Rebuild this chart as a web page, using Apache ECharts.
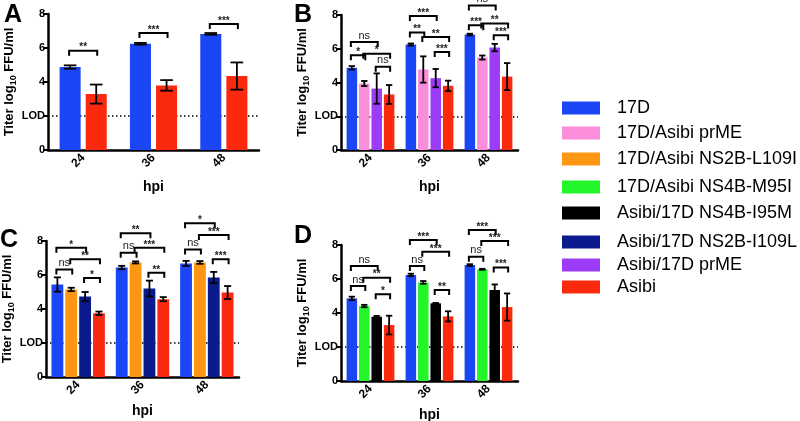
<!DOCTYPE html>
<html><head><meta charset="utf-8">
<script src="https://cdn.jsdelivr.net/npm/echarts@6/dist/echarts.min.js"></script>
<style>html,body{margin:0;padding:0;background:#fff}#c{width:800px;height:421px}</style>
</head><body><div id="c"></div>
<script>
// ---------- data ----------
const hpi = ['24', '36', '48'];
const yTickLabels = ['0', 'LOD', '4', '6', '8'];   // values 0,2,4,6,8
const names = ['17D', '17D/Asibi prME', '17D/Asibi NS2B-L109I', '17D/Asibi NS4B-M95I',
  'Asibi/17D NS4B-I95M', 'Asibi/17D NS2B-I109L', 'Asibi/17D prME', 'Asibi'];
const colors = ['#1b46f6', '#fb8edb', '#fd9612', '#22f52a', '#000000', '#0b1a8c', '#9c3cf6', '#fb2a0e'];

// Panel A
const a17D = [4.88, 6.25, 6.83], a17DErr = [0.10, 0.05, 0.05];
const aAsibi = [3.29, 3.80, 4.35], aAsibiErr = [0.56, 0.31, 0.80];
// Panel B
const b17D = [4.87, 6.25, 6.84], b17DErr = [0.10, 0.06, 0.05];
const bPrME = [3.94, 4.77, 5.48], bPrMEErr = [0.15, 0.78, 0.12];
const bAsibiPrME = [3.64, 4.26, 6.07], bAsibiPrMEErr = [0.90, 0.54, 0.22];
const bAsibi = [3.29, 3.80, 4.35], bAsibiErr = [0.56, 0.31, 0.80];
// Panel C
const c17D = [5.44, 6.44, 6.68], c17DErr = [0.42, 0.10, 0.15];
const cNS2BL = [5.15, 6.74, 6.74], cNS2BLErr = [0.10, 0.06, 0.08];
const cNS2BI = [4.73, 5.20, 5.85], cNS2BIErr = [0.27, 0.47, 0.33];
const cAsibi = [3.75, 4.58, 4.97], cAsibiErr = [0.10, 0.12, 0.38];
// Panel D
const d17D = [4.86, 6.24, 6.82], d17DErr = [0.10, 0.07, 0.05];
const dNS4BM = [4.41, 5.80, 6.57], dNS4BMErr = [0.07, 0.08, 0.03];
const dNS4BI = [3.78, 4.57, 5.35], dNS4BIErr = [0.05, 0.02, 0.33];
const dAsibi = [3.29, 3.80, 4.35], dAsibiErr = [0.55, 0.30, 0.80];

// significance brackets: [category, fromBar, toBar, level, label]
const sigA = [[0, 0, 1, 5.84, '**'], [1, 0, 1, 6.88, '***'], [2, 0, 1, 7.41, '***']];
const sigB = [
  [0, 0, 1, 5.62, '*'], [0, 0, 2, 6.40, 'ns'], [0, 1, 3, 5.71, '*'], [0, 2, 3, 4.93, 'ns'],
  [1, 0, 2, 7.94, '***'], [1, 0, 1, 6.96, '**'], [1, 1, 3, 6.70, '**'], [1, 2, 3, 5.81, '***'],
  [2, 0, 2, 8.57, 'ns'], [2, 0, 1, 7.39, '***'], [2, 1, 3, 7.49, '**'], [2, 2, 3, 6.80, '***']];
const sigC = [
  [0, 0, 2, 7.60, '*'], [0, 0, 1, 6.33, 'ns'], [0, 1, 3, 6.92, '**'], [0, 2, 3, 5.83, '*'],
  [1, 0, 2, 8.45, '**'], [1, 0, 1, 7.31, 'ns'], [1, 1, 3, 7.60, '***'], [1, 2, 3, 6.13, '**'],
  [2, 0, 2, 9.04, '*'], [2, 0, 1, 7.50, 'ns'], [2, 1, 3, 8.35, '***'], [2, 2, 3, 6.92, '***']];
const sigD = [
  [0, 0, 2, 6.76, 'ns'], [0, 0, 1, 5.59, 'ns'], [0, 1, 3, 6.08, '**'], [0, 2, 3, 5.10, '*'],
  [1, 0, 2, 8.29, '***'], [1, 0, 1, 6.76, 'ns'], [1, 1, 3, 7.60, '***'], [1, 2, 3, 5.35, '**'],
  [2, 0, 2, 8.88, '***'], [2, 0, 1, 7.31, 'ns'], [2, 1, 3, 8.24, '***'], [2, 2, 3, 6.67, '***']];

// ---------- layout / style ----------
const FONT = '"Liberation Sans", Arial, Helvetica, sans-serif';
const panels = [
  { letter: 'A', grid: { left: 48, top: 14, width: 211, height: 136 }, cg: 0.33, g: 0.24, nameGapY: 24, nameGapX: 30,
    letterPos: [4, 3], sig: sigA,
    series: [[0, a17D, a17DErr], [7, aAsibi, aAsibiErr]] },
  { letter: 'B', grid: { left: 341, top: 15, width: 177, height: 135 }, cg: 0.19, g: 0.18, nameGapY: 24, nameGapX: 30,
    letterPos: [294, 3], sig: sigB,
    series: [[0, b17D, b17DErr], [1, bPrME, bPrMEErr], [6, bAsibiPrME, bAsibiPrMEErr], [7, bAsibi, bAsibiErr]] },
  { letter: 'C', grid: { left: 46, top: 241, width: 193, height: 136 }, cg: 0.17, g: 0.17, nameGapY: 24, nameGapX: 27,
    letterPos: [0, 228], sig: sigC,
    series: [[0, c17D, c17DErr], [2, cNS2BL, cNS2BLErr], [5, cNS2BI, cNS2BIErr], [7, cAsibi, cAsibiErr]] },
  { letter: 'D', grid: { left: 341, top: 245, width: 177, height: 136 }, cg: 0.19, g: 0.18, nameGapY: 24, nameGapX: 27,
    letterPos: [294, 224], sig: sigD,
    series: [[0, d17D, d17DErr], [3, dNS4BM, dNS4BMErr], [4, dNS4BI, dNS4BIErr], [7, dAsibi, dAsibiErr]] }
];

function barGeom(band, n, cg, g) {
  const total = band * (1 - cg);
  const w = total / (n + (n - 1) * g);
  return { w: w, center: i => -total / 2 + w / 2 + i * w * (1 + g) };
}

const grids = [], xAxes = [], yAxes = [], series = [], graphics = [];
panels.forEach((p, pi) => {
  grids.push(Object.assign({ containLabel: false, outerBoundsMode: 'none' }, p.grid));
  xAxes.push({
    type: 'category', gridIndex: pi, data: hpi,
    name: 'hpi', nameLocation: 'middle', nameGap: p.nameGapX,
    nameTextStyle: { fontFamily: FONT, fontSize: 14, fontWeight: 'bold', color: '#000' },
    axisLine: { lineStyle: { color: '#000', width: 2.5 } },
    axisTick: { alignWithLabel: true, length: 5, lineStyle: { color: '#000', width: 2 } },
    axisLabel: { show: true, rotate: 45, interval: 0, margin: 6, fontFamily: FONT, fontSize: 12, fontWeight: 'bold', color: '#000' },
    splitLine: { show: false }
  });
  yAxes.push({
    type: 'value', gridIndex: pi, min: 0, max: 8, interval: 2,
    name: 'Titer log{s|10} FFU/ml', nameLocation: 'middle', nameGap: p.nameGapY,
    nameTextStyle: { fontFamily: FONT, fontSize: 13, fontWeight: 'bold', color: '#000',
      rich: { s: { fontFamily: FONT, fontSize: 9, fontWeight: 'bold', color: '#000', padding: [8, 0, 0, 0] } } },
    axisLine: { show: true, lineStyle: { color: '#000', width: 2.5 } },
    axisTick: { show: true, length: 5, lineStyle: { color: '#000', width: 2 } },
    axisLabel: { margin: 3, fontFamily: FONT, fontSize: 11, fontWeight: 'bold', color: '#000',
      formatter: v => yTickLabels[Math.round(v / 2)] },
    splitLine: { show: false }
  });
  const n = p.series.length;
  p.series.forEach((s, k) => {
    const bs = {
      type: 'bar', name: names[s[0]], xAxisIndex: pi, yAxisIndex: pi, data: s[1],
      itemStyle: { color: colors[s[0]] }, barCategoryGap: (p.cg * 100) + '%', barGap: (p.g * 100) + '%',
      z: 2, emphasis: { disabled: true }
    };
    if (k === 0) {
      bs.markLine = { silent: true, symbol: 'none', z: 1, label: { show: false },
        lineStyle: { color: '#000', type: [1.5, 2.5], width: 1.5 }, data: [{ yAxis: 2 }] };
    }
    series.push(bs);
  });
  // error bars
  const errData = [];
  p.series.forEach((s, k) => s[1].forEach((v, c) => errData.push([c, v, s[2][c], k])));
  series.push({
    type: 'custom', xAxisIndex: pi, yAxisIndex: pi, z: 5, silent: true, clip: false,
    data: errData, encode: { x: 0, y: 1 },
    renderItem: (params, api) => {
      const c = api.value(0), v = api.value(1), e = api.value(2), k = api.value(3);
      const band = api.size([1, 0])[0];
      const geo = barGeom(band, n, p.cg, p.g);
      const cx = api.coord([c, v])[0] + geo.center(k);
      const yt = api.coord([c, v + e])[1], yb = api.coord([c, v - e])[1];
      const hw = geo.w * 0.3;
      const st = { stroke: '#000', lineWidth: 1.8, fill: null };
      return { type: 'group', children: [
        { type: 'line', shape: { x1: cx, y1: yt, x2: cx, y2: yb }, style: st },
        { type: 'line', shape: { x1: cx - hw, y1: yt, x2: cx + hw, y2: yt }, style: st },
        { type: 'line', shape: { x1: cx - hw, y1: yb, x2: cx + hw, y2: yb }, style: st }
      ] };
    }
  });
  // significance brackets
  series.push({
    type: 'custom', xAxisIndex: pi, yAxisIndex: pi, z: 6, silent: true, clip: false,
    data: p.sig.map(s => [s[0], s[3]]), encode: { x: 0, y: 1 },
    renderItem: (params, api) => {
      const s = p.sig[params.dataIndex];
      const band = api.size([1, 0])[0];
      const geo = barGeom(band, n, p.cg, p.g);
      const pt = api.coord([s[0], s[3]]);
      const x0 = pt[0] + geo.center(s[1]) - 1, x1 = pt[0] + geo.center(s[2]) + 1, y = pt[1];
      const isNs = s[4] === 'ns';
      return { type: 'group', children: [
        { type: 'polyline', shape: { points: [[x0, y + 5], [x0, y], [x1, y], [x1, y + 5]] },
          style: { stroke: '#000', lineWidth: 2, fill: null } },
        { type: 'text', style: { text: s[4], x: (x0 + x1) / 2, y: isNs ? y - 1 : y + 2, align: 'center', verticalAlign: 'bottom',
          font: (isNs ? 'normal 11px ' : 'bold 10px ') + FONT, fill: '#222' } }
      ] };
    }
  });
  graphics.push({ type: 'text', left: p.letterPos[0], top: p.letterPos[1],
    style: { text: p.letter, font: 'bold 25px ' + FONT, fill: '#000' } });
});

const legendCenters = [108, 133, 159, 187, 213, 242, 265, 287];
const legends = names.map((nm, i) => ({
  data: [nm], left: 562, top: legendCenters[i] - 9, padding: 0, orient: 'vertical',
  icon: 'rect', itemWidth: 38, itemHeight: 13, selectedMode: false,
  textStyle: { fontFamily: FONT, fontSize: 18, color: '#000', padding: [0, 0, 0, 12], lineHeight: 18 }
}));

const chart = echarts.init(document.getElementById('c'), null, { renderer: 'canvas' });
chart.setOption({
  animation: false, backgroundColor: '#fff',
  grid: grids, xAxis: xAxes, yAxis: yAxes, series: series, legend: legends, graphic: graphics,
  tooltip: { show: false }
});
</script></body></html>
